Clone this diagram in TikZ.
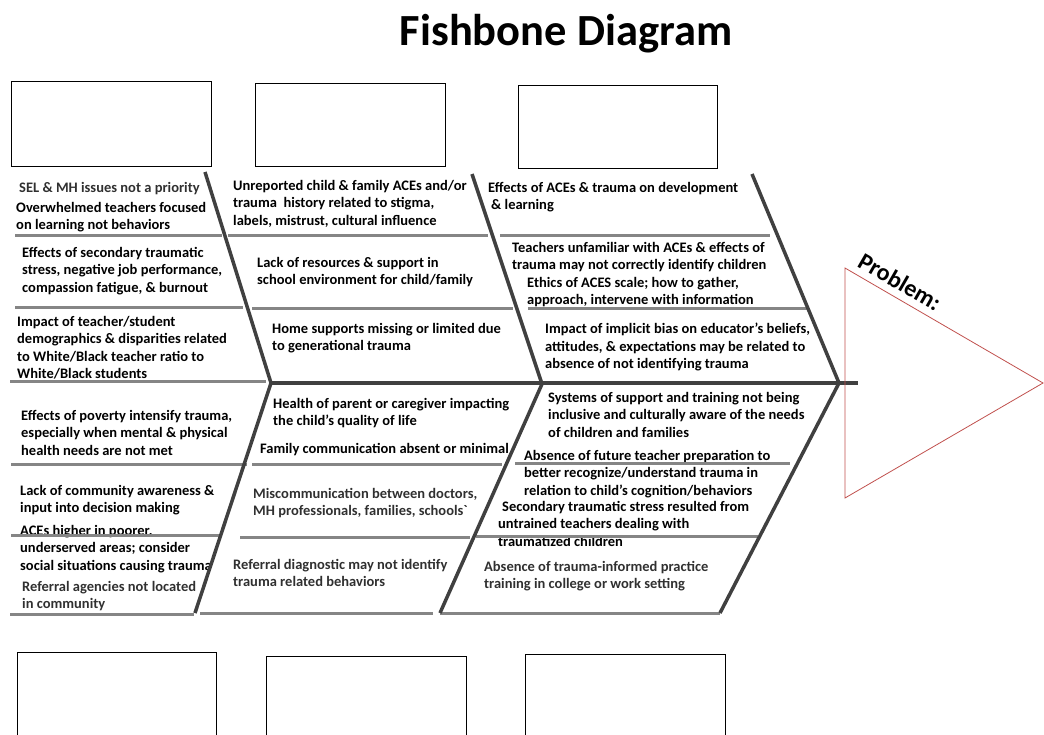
\documentclass[tikz,border=0pt]{standalone}
\usepackage{fontspec}
\setmainfont{Carlito}
\definecolor{bonegray}{HTML}{404040}
\definecolor{ribgray}{HTML}{858585}
\definecolor{probred}{HTML}{C0504D}
\definecolor{softgray}{HTML}{303030}
\tikzset{
  bone/.style={bonegray,line width=3.5pt},
  rib/.style={ribgray,line width=3pt},
  blankbox/.style={draw=black,line width=0.9pt,inner sep=0pt}
}
\begin{document}
\begin{tikzpicture}[x=1pt,y=-1pt]
  \useasboundingbox (0,0) rectangle (1044,734);

  \node[font=\bfseries\fontsize{44.5}{50}\selectfont] (title) at (566,34) {Fishbone Diagram};

  % empty boxes
  \node[blankbox,minimum width=200pt,minimum height=85pt] (b1) at (111,123.5) {};
  \node[blankbox,minimum width=190pt,minimum height=83pt] (b2) at (350,124.5) {};
  \node[blankbox,minimum width=199pt,minimum height=83pt] (b3) at (617.5,126.5) {};
  \node[blankbox,minimum width=199pt,minimum height=90pt] (b4) at (116.5,697) {};
  \node[blankbox,minimum width=200pt,minimum height=86pt] (b5) at (366,699) {};
  \node[blankbox,minimum width=200pt,minimum height=88pt] (b6) at (625,698) {};

  \begin{scope}[every node/.style={anchor=north west,align=left,inner sep=0pt,
      font=\bfseries\fontsize{14.5}{17.5}\selectfont}]
    % top row
    \node[softgray] (1) at (19,182) {SEL \& MH issues not a priority};
    \node (2) at (16,202) {Overwhelmed teachers focused\\on learning not behaviors};
    \node (3) at (22,247) {Effects of secondary traumatic\\stress, negative job performance,\\compassion fatigue, \& burnout};
    \node (4) at (17,316) {Impact of teacher/student\\demographics \& disparities related\\to White/Black teacher ratio to\\White/Black students};
    \node (5) at (233,180) {Unreported child \& family ACEs and/or\\trauma\ \ history related to stigma,\\labels, mistrust, cultural influence};
    \node (6) at (257,257) {Lack of resources \& support in\\school environment for child/family};
    \node (7) at (272,323) {Home supports missing or limited due\\to generational trauma};
    \node (8) at (488,182) {Effects of ACEs \& trauma on development\\\hspace{3pt}\& learning};
    \node (9) at (512,242) {Teachers unfamiliar with ACEs \& effects of\\trauma may not correctly identify children};
    \node (10) at (527,277) {Ethics of ACES scale; how to gather,\\approach, intervene with information};
    \node (11) at (545,323) {Impact of implicit bias on educator’s beliefs,\\attitudes, \& expectations may be related to\\absence of not identifying trauma};
    % bottom row
    \node (12) at (21,410) {Effects of poverty intensify trauma,\\especially when mental \& physical\\health needs are not met};
    \node (13) at (20,485) {Lack of community awareness \&\\input into decision making};
    \node (14) at (20,525) {ACEs higher in poorer,\\underserved areas; consider\\social situations causing trauma};
    \node[softgray] (15) at (22,581) {Referral agencies not located\\in community};
    \node (16) at (273,398) {Health of parent or caregiver impacting\\the child’s quality of life};
    \node (17) at (260,443) {Family communication absent or minimal};
    \node[softgray] (18) at (253,488) {Miscommunication between doctors,\\MH professionals, families, schools\textasciigrave};
    \node[softgray] (19) at (233,559) {Referral diagnostic may not identify\\trauma related behaviors};
    \node (20) at (548,392) {Systems of support and training not being\\inclusive and culturally aware of the needs\\of children and families};
    \node (21) at (524,450) {Absence of future teacher preparation to\\better recognize/understand trauma in\\relation to child’s cognition/behaviors};
    \node (22) at (498,501) {\hspace{4pt}Secondary traumatic stress resulted from\\untrained teachers dealing with\\traumatized children};
    \node[softgray] (23) at (484,561) {Absence of trauma-informed practice\\training in college or work setting};
  \end{scope}

  % ribs
  \draw[rib] (15,235) -- (222,235);
  \draw[rib] (15,307) -- (243,307);
  \draw[rib] (10,381) -- (266,381);
  \draw[rib] (228,235) -- (488,235);
  \draw[rib] (252,308) -- (513,308);
  \draw[rib] (500,235) -- (770,235);
  \draw[rib] (528,308) -- (808,308);
  \draw[rib] (11,464) -- (247,464);
  \draw[rib] (11,535) -- (220,535);
  \draw[rib] (10,614) -- (194,614);
  \draw[rib] (252,464) -- (502,464);
  \draw[rib] (240,537) -- (470,537);
  \draw[rib] (200,613) -- (433,613);
  \draw[rib] (515,463) -- (790,463);
  \draw[rib] (476,536) -- (758,536);
  \draw[rib] (440,613) -- (720,613);

  % bones
  \coordinate (ja) at (271,383);
  \coordinate (jb) at (542,384);
  \coordinate (jc) at (839,383);
  \coordinate (head) at (858,383);
  \draw[bone] (205,172) -- (ja) -- (195,613);
  \draw[bone] (472,174) -- (jb) -- (440,613);
  \draw[bone] (752,174) -- (jc) -- (720,613);
  \draw[bonegray,line width=4pt] (ja) -- (head);

  % problem
  \draw[probred,line width=0.8pt] (845,268) -- (1043,383) -- (845,498) -- cycle;
  \node[rotate=-30,font=\bfseries\fontsize{24}{28}\selectfont] (prob) at (900,282) {Problem:};
\end{tikzpicture}
\end{document}
